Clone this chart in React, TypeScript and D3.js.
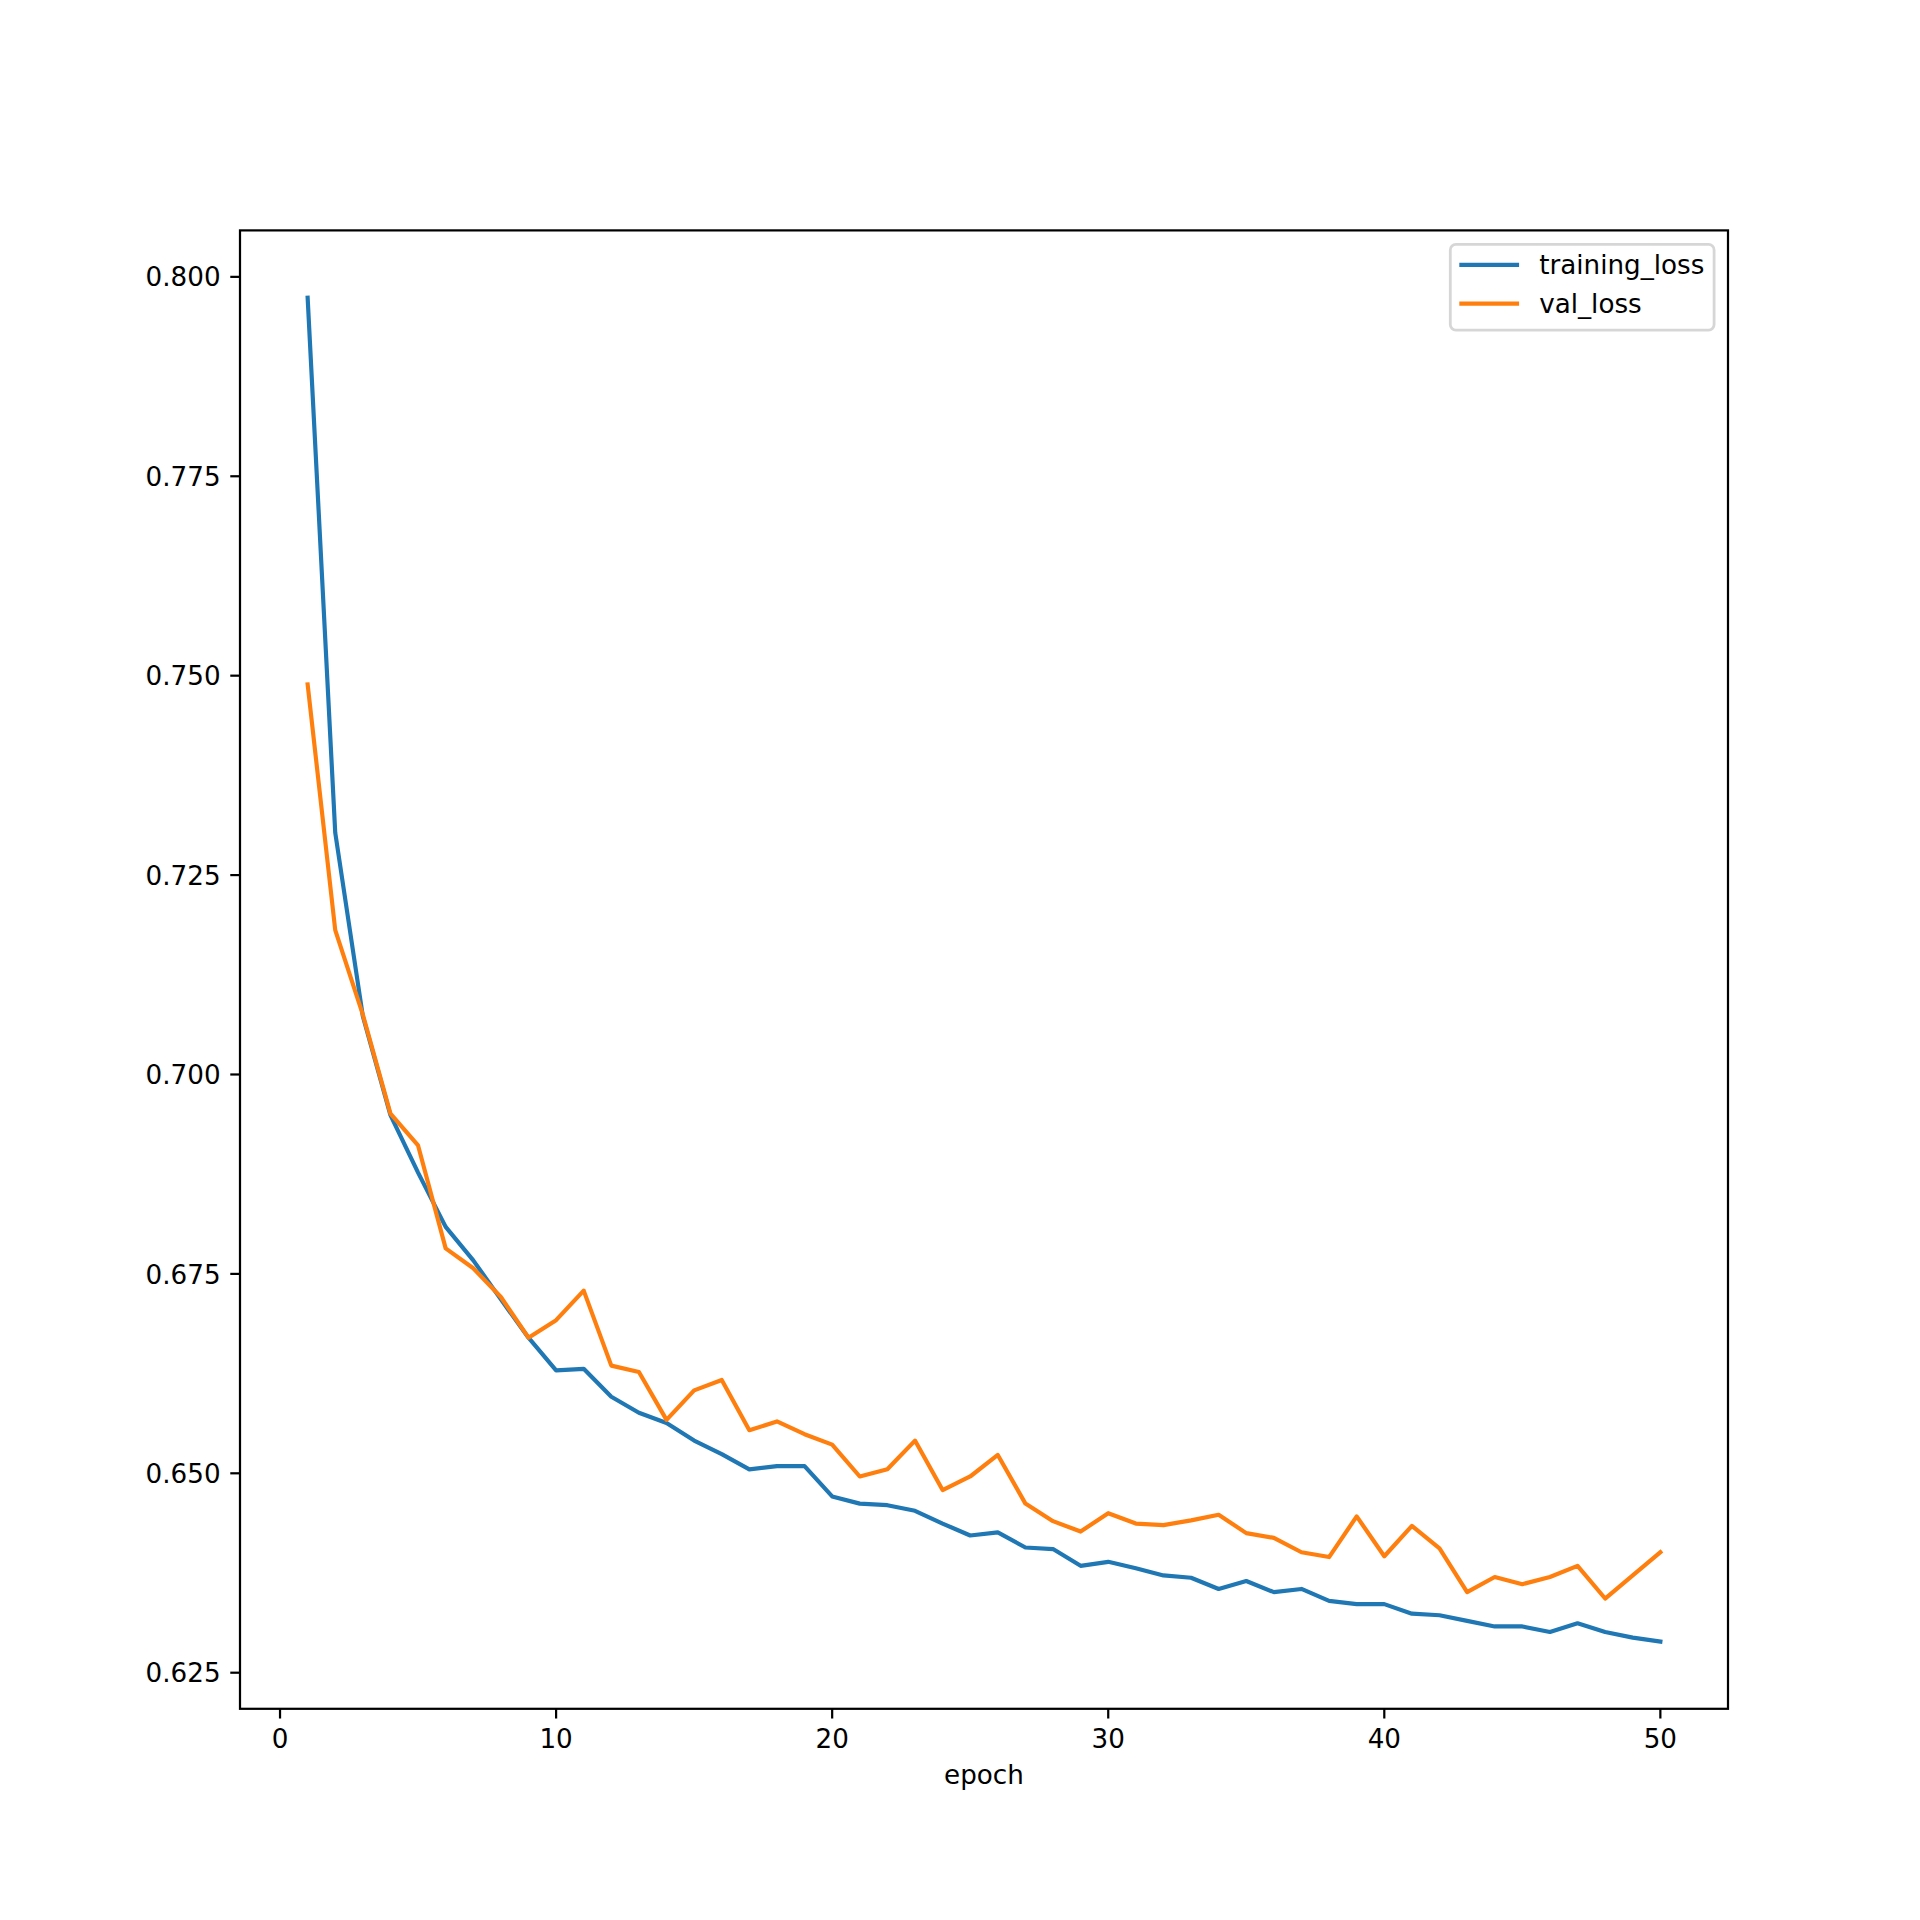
import React, { useMemo } from 'react';
import * as d3 from 'd3';

const epochs = d3.range(1, 51);

const trainingLoss = [
  0.7974, 0.7303, 0.7073, 0.6949, 0.6877, 0.6809, 0.6767, 0.6718, 0.667, 0.6629,
  0.6631, 0.6596, 0.6576, 0.6563, 0.6541, 0.6524, 0.6505, 0.6509, 0.6509, 0.6471,
  0.6462, 0.646, 0.6453, 0.6437, 0.6422, 0.6426, 0.6407, 0.6405, 0.6384, 0.6389,
  0.6381, 0.6372, 0.6369, 0.6355, 0.6365, 0.6351, 0.6355, 0.634, 0.6336, 0.6336,
  0.6324, 0.6322, 0.6315, 0.6308, 0.6308, 0.6301, 0.6312, 0.6301, 0.6294, 0.6289,
];

const valLoss = [
  0.7489, 0.7181, 0.7075, 0.6951, 0.6911, 0.6782, 0.6757, 0.6721, 0.667, 0.6692,
  0.6729, 0.6635, 0.6627, 0.6567, 0.6604, 0.6617, 0.6554, 0.6565, 0.6549, 0.6536,
  0.6496, 0.6505, 0.6541, 0.6479, 0.6496, 0.6523, 0.6462, 0.644, 0.6427, 0.645,
  0.6437, 0.6435, 0.6441, 0.6448, 0.6425, 0.6419, 0.6401, 0.6395, 0.6446, 0.6396,
  0.6434, 0.6406, 0.6351, 0.637, 0.6361, 0.637, 0.6384, 0.6343, 0.6372, 0.6401,
];

const seriesNames = ['training_loss', 'val_loss'];
const seriesColors = ['#1f77b4', '#ff7f0e'];

const xTicks = [0, 10, 20, 30, 40, 50];
const yTicks = [0.625, 0.65, 0.675, 0.7, 0.725, 0.75, 0.775, 0.8];

const W = 1920;
const H = 1920;
const FONT = 'DejaVu Sans';
const FS = 26.2;
const LW = 4.17;
const AX_LW = 2.22;
const TICK = 9.72;

const App: React.FC = () => {
  const margin = { top: 230.4, right: 192, bottom: 211.2, left: 240 };
  const innerWidth = W - margin.left - margin.right;
  const innerHeight = H - margin.top - margin.bottom;

  const { xScale, yScale, paths } = useMemo(() => {
    const xMin = d3.min(epochs) as number;
    const xMax = d3.max(epochs) as number;
    const xPad = (xMax - xMin) * 0.05;
    const xScale = d3.scaleLinear()
      .domain([xMin - xPad, xMax + xPad])
      .range([0, innerWidth]);

    const all = trainingLoss.concat(valLoss);
    const yMin = d3.min(all) as number;
    const yMax = d3.max(all) as number;
    const yPad = (yMax - yMin) * 0.05;
    const yScale = d3.scaleLinear()
      .domain([yMin - yPad, yMax + yPad])
      .range([innerHeight, 0]);

    const line = d3.line<number>()
      .x((_, i) => xScale(epochs[i]))
      .y(d => yScale(d));

    return { xScale, yScale, paths: [line(trainingLoss) || '', line(valLoss) || ''] };
  }, [innerWidth, innerHeight]);

  const fmtY = d3.format('.3f');

  // legend geometry (upper right, matplotlib style)
  const legRight = innerWidth - 13.9;
  const legTop = 13.9;
  const legW = 263.8;
  const legH = 85.9;
  const legLeft = legRight - legW;

  return (
    <div style={{ position: 'absolute', left: 0, top: 0 }}>
      <svg width={W} height={H} viewBox={`0 0 ${W} ${H}`} style={{ display: 'block', background: '#fff' }}>
        <rect x={0} y={0} width={W} height={H} fill="#ffffff" />
        <g transform={`translate(${margin.left}, ${margin.top})`} fontFamily={FONT} fontSize={FS}>
          {/* lines */}
          {paths.map((d, i) => (
            <path
              key={i}
              d={d}
              fill="none"
              stroke={seriesColors[i]}
              strokeWidth={LW}
              strokeLinejoin="round"
              strokeLinecap="square"
            />
          ))}

          {/* spines */}
          <rect
            x={0}
            y={0}
            width={innerWidth}
            height={innerHeight}
            fill="none"
            stroke="#000"
            strokeWidth={AX_LW}
          />

          {/* y ticks */}
          {yTicks.map((t, i) => (
            <g key={i} transform={`translate(0, ${yScale(t)})`}>
              <line x1={0} x2={-TICK} stroke="#000" strokeWidth={AX_LW} />
              <text x={-TICK - 9.72} y={9.6} textAnchor="end" fill="#000">
                {fmtY(t)}
              </text>
            </g>
          ))}

          {/* x ticks */}
          {xTicks.map((t, i) => (
            <g key={i} transform={`translate(${xScale(t)}, ${innerHeight})`}>
              <line y1={0} y2={TICK} stroke="#000" strokeWidth={AX_LW} />
              <text x={0} y={39.7} textAnchor="middle" fill="#000">
                {t}
              </text>
            </g>
          ))}

          {/* x label */}
          <text x={innerWidth / 2} y={innerHeight + 75} textAnchor="middle" fill="#000">
            epoch
          </text>

          {/* legend */}
          <rect
            x={legLeft}
            y={legTop}
            width={legW}
            height={legH}
            rx={5.6}
            fill="#ffffff"
            fillOpacity={0.8}
            stroke="#cccccc"
            strokeOpacity={0.8}
            strokeWidth={2.78}
          />
          {seriesNames.map((name, i) => {
            const cy = legTop + 20.6 + i * 38.8;
            return (
              <g key={name}>
                <line
                  x1={legLeft + 11.1}
                  x2={legLeft + 11.1 + 55.6}
                  y1={cy}
                  y2={cy}
                  stroke={seriesColors[i]}
                  strokeWidth={LW}
                  strokeLinecap="square"
                />
                <text x={legLeft + 11.1 + 55.6 + 22.2} y={cy + 9.5} fill="#000">
                  {name}
                </text>
              </g>
            );
          })}
        </g>
      </svg>
    </div>
  );
};

export default App;
